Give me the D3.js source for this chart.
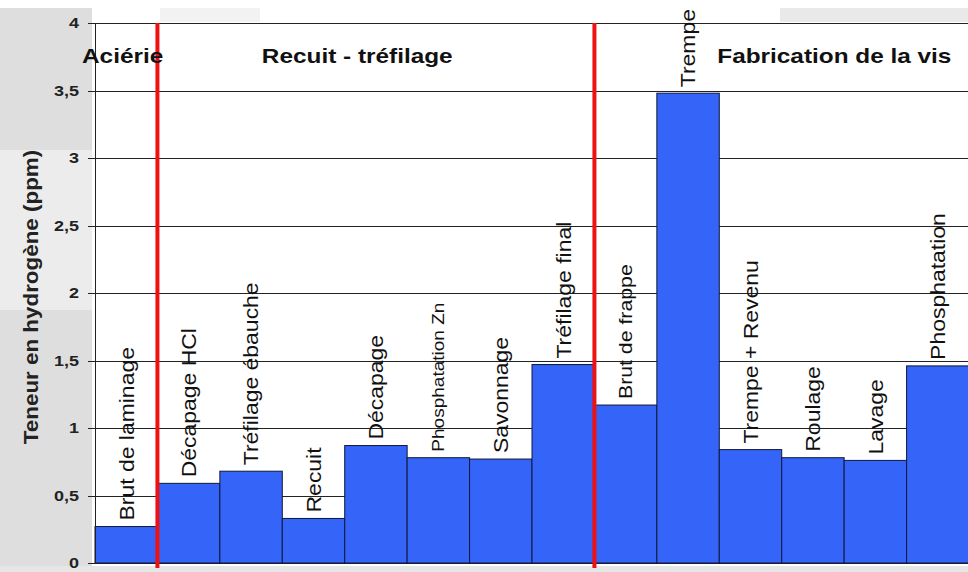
<!DOCTYPE html>
<html>
<head>
<meta charset="utf-8">
<script src="https://cdn.jsdelivr.net/npm/d3@7"></script>
<style>
  body { margin: 0; background: #fff; }
  svg { display: block; font-family: "Liberation Sans", Arial, sans-serif; }
</style>
</head>
<body>
<script>
// data
const steps = ['Brut de laminage', 'Décapage HCl', 'Tréfilage ébauche', 'Recuit', 'Décapage',
  'Phosphatation Zn', 'Savonnage', 'Tréfilage final', 'Brut de frappe', 'Trempe',
  'Trempe + Revenu', 'Roulage', 'Lavage', 'Phosphatation']
const hydrogen = [0.27, 0.59, 0.68, 0.33, 0.87, 0.78, 0.77, 1.47, 1.17, 3.48, 0.84, 0.78, 0.76, 1.46]
const yTicks = [0, 0.5, 1, 1.5, 2, 2.5, 3, 3.5, 4]
const yTickLabels = ['0', '0,5', '1', '1,5', '2', '2,5', '3', '3,5', '4']
const sections = ['Aciérie', 'Recuit - tréfilage', 'Fabrication de la vis']
const sectionStart = ['Brut de laminage', 'Tréfilage ébauche', 'Trempe + Revenu']
const separators = ['Décapage HCl', 'Brut de frappe']
const yTitle = 'Teneur en hydrogène (ppm)'

const width = 968
const height = 572
const margin = {top: 23, right: -1, bottom: 9, left: 95}
const labelSize = {'Phosphatation Zn': 17, 'Brut de frappe': 19}

const x = d3.scaleBand().domain(steps).range([margin.left, width - margin.right]).padding(0)
const y = d3.scaleLinear().domain([0, 4]).range([height - margin.bottom, margin.top])

const svg = d3.select('body').append('svg')
    .attr('width', width)
    .attr('height', height)

// grey scan background
svg.append('rect').attr('x', 0).attr('y', 8).attr('width', 92).attr('height', 564).attr('fill', '#dedede')
svg.append('rect').attr('x', 0).attr('y', 150).attr('width', 92).attr('height', 160).attr('fill', '#ececec')
svg.append('rect').attr('x', 0).attr('y', 566).attr('width', width).attr('height', 6).attr('fill', '#e6e6e6')
svg.append('rect').attr('x', 160).attr('y', 8).attr('width', 100).attr('height', 14).attr('fill', '#f2f2f2')
svg.append('rect').attr('x', 780).attr('y', 8).attr('width', 188).attr('height', 14).attr('fill', '#e9e9e9')
svg.append('rect')
    .attr('x', margin.left).attr('y', margin.top)
    .attr('width', width - margin.left).attr('height', y(0) - margin.top)
    .attr('fill', '#fff')

// gridlines + ticks
svg.append('g')
  .selectAll('line')
  .data(yTicks)
  .join('line')
    .attr('x1', margin.left - 7)
    .attr('x2', width)
    .attr('y1', (d) => Math.round(y(d)) + 0.5)
    .attr('y2', (d) => Math.round(y(d)) + 0.5)
    .attr('stroke', '#222')
    .attr('stroke-width', 1)

svg.append('g')
  .selectAll('text')
  .data(yTicks)
  .join('text')
    .attr('transform', (d) => `translate(79, ${y(d)}) scale(1.2, 1)`)
    .attr('text-anchor', 'end')
    .attr('dy', '0.36em')
    .attr('font-size', 15)
    .attr('font-weight', 'bold')
    .attr('fill', '#222')
    .text((d, i) => yTickLabels[i])

// bars
svg.append('g')
  .selectAll('rect')
  .data(steps)
  .join('rect')
    .attr('x', (d) => x(d))
    .attr('y', (d, i) => y(hydrogen[i]))
    .attr('width', x.bandwidth())
    .attr('height', (d, i) => y(0) - y(hydrogen[i]))
    .attr('fill', '#3464f8')
    .attr('stroke', '#101838')
    .attr('stroke-width', 1)

// y axis line
svg.append('line')
    .attr('x1', margin.left + 0.5).attr('x2', margin.left + 0.5)
    .attr('y1', y(4)).attr('y2', y(0))
    .attr('stroke', '#222')

// bar labels, rotated
svg.append('g')
  .selectAll('text')
  .data(steps)
  .join('text')
    .attr('transform', (d, i) => `translate(${x(d) + x.bandwidth() / 2}, ${y(hydrogen[i]) - 6}) rotate(-90) scale(1.12, 1)`)
    .attr('dy', '0.36em')
    .attr('font-size', (d) => labelSize[d] || 20.5)
    .attr('fill', '#111')
    .text((d) => d)

// section separators
svg.append('g')
  .selectAll('line')
  .data(separators)
  .join('line')
    .attr('x1', (d) => x(d))
    .attr('x2', (d) => x(d))
    .attr('y1', y(4))
    .attr('y2', y(0) + 5)
    .attr('stroke', '#ee1111')
    .attr('stroke-width', 4)

const sectionOffset = [-13, 42, -2]
svg.append('g')
  .selectAll('text')
  .data(sections)
  .join('text')
    .attr('transform', (d, i) => `translate(${x(sectionStart[i]) + sectionOffset[i]}, 63) scale(1.16, 1)`)
    .attr('font-size', 21)
    .attr('font-weight', 'bold')
    .attr('fill', '#111')
    .text((d) => d)

// y axis title
svg.append('text')
    .attr('transform', `translate(31, 297) rotate(-90) scale(1.12, 1)`)
    .attr('text-anchor', 'middle')
    .attr('dy', '0.36em')
    .attr('font-size', 20)
    .attr('font-weight', 'bold')
    .attr('fill', '#222')
    .text(yTitle)
</script>
</body>
</html>
